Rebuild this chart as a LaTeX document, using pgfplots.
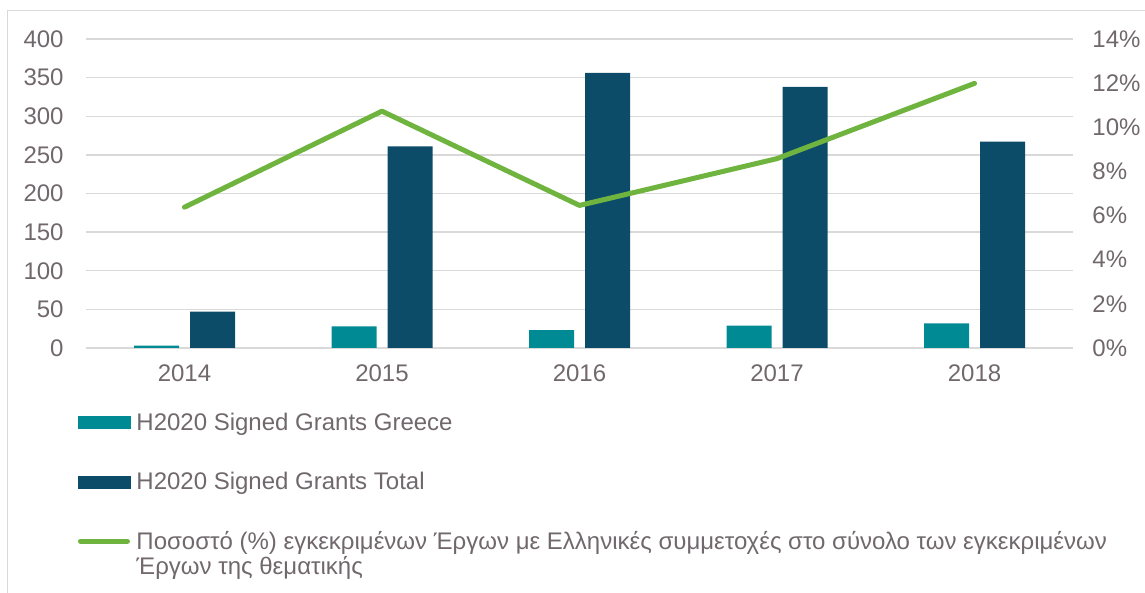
\documentclass[border=0pt]{standalone}
\usepackage{pgfplots}
\pgfplotsset{compat=1.18}
\usepackage{fontspec}
\setmainfont{Liberation Sans}
\definecolor{cGR}{RGB}{0,138,148}
\definecolor{cTOT}{RGB}{12,76,104}
\definecolor{cLINE}{RGB}{112,180,64}
\definecolor{cTXT}{RGB}{112,104,108}
\definecolor{cGRID}{RGB}{217,217,217}
\begin{document}
\fontsize{24}{25.5}\selectfont
\begin{tikzpicture}
\useasboundingbox (0,0) rectangle (1145pt,592pt);
\draw[cGRID, line width=1.2pt] (7.5pt,-5pt) -- (7.5pt,581.5pt) -- (1150pt,581.5pt);
\begin{axis}[
  at={(85.75pt,244pt)}, anchor=south west, scale only axis,
  width=987.5pt, height=309pt,
  xmin=-0.5, xmax=4.5, ymin=0, ymax=400,
  xtick={0,1,2,3,4}, xticklabels={2014,2015,2016,2017,2018},
  ytick={0,50,...,400},
  axis line style={draw=none},
  major tick length=0pt,
  ymajorgrids, grid style={cGRID, line width=1.3pt},
  tick label style={font=\fontsize{24}{28}\selectfont, text=cTXT, inner sep=0pt},
  /pgf/number format/assume math mode=true,
  yticklabel shift=22pt, xticklabel shift=17pt,
  ybar=11pt, bar width=45pt,
]
\addplot[fill=cGR, draw=none] coordinates {(0,3) (1,28) (2,23) (3,29) (4,32)};
\addplot[fill=cTOT, draw=none] coordinates {(0,47) (1,261) (2,356) (3,338) (4,267)};
\end{axis}
\begin{axis}[
  at={(85.75pt,244pt)}, anchor=south west, scale only axis,
  width=987.5pt, height=309pt,
  xmin=-0.5, xmax=4.5, ymin=0, ymax=14,
  ytick={0,2,...,14},
  axis y line*=right, axis x line=none,
  axis line style={draw=none},
  major tick length=0pt,
  tick label style={font=\fontsize{24}{28}\selectfont, text=cTXT, inner sep=0pt},
  /pgf/number format/assume math mode=true,
  yticklabel={\pgfmathprintnumber{\tick}\%},
  yticklabel shift=19pt,
  legend cell align=left,
  legend style={at={(0,0)}, anchor=north west, xshift=-10.5pt, yshift=-64pt,
    draw=none, fill=none, inner sep=0pt, row sep=35.5pt, column sep=4pt,
    font=\fontsize{24}{25.5}\selectfont, text=cTXT,
    nodes={text height=18pt, text depth=6pt, inner sep=0pt}},
]
\addlegendimage{legend image code/.code={\fill[cGR] (0pt,-4pt) rectangle (52pt,8pt);}}
\addlegendentry{H2020 Signed Grants Greece}
\addlegendimage{legend image code/.code={\fill[cTOT] (0pt,-4pt) rectangle (52pt,8pt);}}
\addlegendentry{H2020 Signed Grants Total}
\addplot[cLINE, line width=5pt, line join=round, line cap=round, mark=none,
  legend image code/.code={\draw[cLINE, line width=5pt, line cap=round] (0pt,-4pt) (2.5pt,2pt) -- (49.5pt,2pt) (52pt,8pt);}]
  coordinates {(0,6.38) (1,10.73) (2,6.46) (3,8.58) (4,11.99)};
\addlegendentry{\parbox[t]{1000pt}{Ποσοστό (\%) εγκεκριμένων Έργων με Ελληνικές συμμετοχές στο σύνολο των εγκεκριμένων\\Έργων της θεματικής}}
\end{axis}
\end{tikzpicture}
\end{document}
